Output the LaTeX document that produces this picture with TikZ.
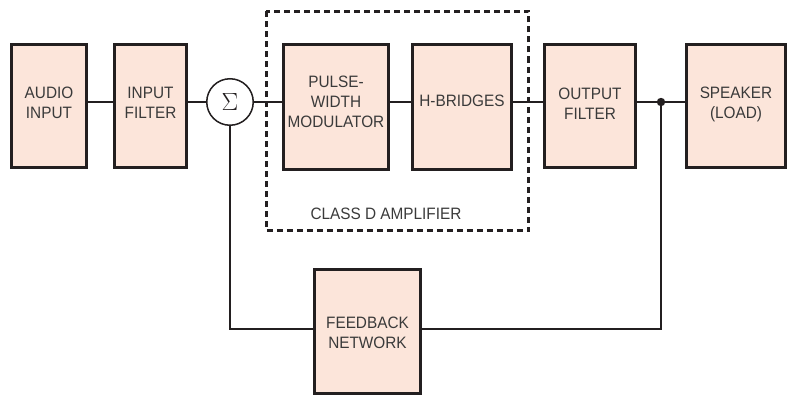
\documentclass[tikz,border=0pt]{standalone}
\usepackage{fontspec}
\setmainfont[FakeStretch=0.93]{Liberation Sans}
\definecolor{boxfill}{HTML}{FCE5DA}
\definecolor{ink}{HTML}{231F20}
\definecolor{txt}{HTML}{3A3A3A}
\begin{document}
\begin{tikzpicture}[x=1pt,y=-1pt,
  blk/.style={draw=ink,fill=boxfill,line width=2.7pt,rectangle,inner sep=0pt},
  lbl/.style={text=txt,align=center,font=\fontsize{16.5}{20}\selectfont,inner sep=0pt},
  wire/.style={draw=ink,line width=1.5pt},
  grp/.style={draw=ink,line width=2.7pt,dash pattern=on 6pt off 4pt}]
\useasboundingbox (0,0) rectangle (788,396);
% dashed group
\draw[grp] (266.3,11.3) rectangle (528.7,230.7);
\node[lbl] (cls) at (386,213.5) {CLASS D AMPLIFIER};
% blocks
\node[blk,minimum width=75.3pt,minimum height=123.3pt] (audio) at (49,106) {};
\node[blk,minimum width=72.3pt,minimum height=123.3pt] (inf) at (150.5,106) {};
\node[blk,minimum width=105.3pt,minimum height=125.3pt] (pwm) at (336,107) {};
\node[blk,minimum width=99.3pt,minimum height=125.3pt] (hb) at (462,107) {};
\node[blk,minimum width=91.3pt,minimum height=123.3pt] (outf) at (590,106) {};
\node[blk,minimum width=99.3pt,minimum height=123.3pt] (spk) at (736,106) {};
\node[blk,minimum width=106.3pt,minimum height=124.3pt] (fb) at (367.5,331.5) {};
% labels
\node[lbl] (taudio) at (49,103) {AUDIO\\INPUT};
\node[lbl] (tinf) at (150.5,103) {INPUT\\FILTER};
\node[lbl] (tpwm) at (336,102) {PULSE-\\WIDTH\\MODULATOR};
\node[lbl] (thb) at (462,100.5) {H-BRIDGES};
\node[lbl] (toutf) at (590,104) {OUTPUT\\FILTER};
\node[lbl] (tspk) at (736,104.5) {SPEAKER\\(LOAD)};
\node[lbl] (tfb) at (367.5,332.5) {FEEDBACK\\NETWORK};
% summing junction
\node[draw=ink,line width=1.5pt,fill=white,circle,minimum size=46.5pt,inner sep=0pt,
  font=\fontsize{28}{28}\selectfont,text=ink] (sig) at (230,102) {$\Sigma$};
% junction dot
\coordinate (j) at (661,102);
\fill[ink] (j) circle (4.2pt);
% connectors
\draw[wire] (audio.east|-sig) -- (inf.west|-sig);
\draw[wire] (inf.east|-sig) -- (sig.west);
\draw[wire] (sig.east) -- (pwm.west|-sig);
\draw[wire] (pwm.east|-sig) -- (hb.west|-sig);
\draw[wire] (hb.east|-sig) -- (outf.west|-sig);
\draw[wire] (outf.east|-sig) -- (j) -- (spk.west|-j);
\coordinate (fbl) at (230,329);
\draw[wire] (sig.south) -- (fbl) -- (fb.west|-fbl);
\draw[wire] (fb.east|-fbl) -- (j|-fbl) -- (j);
\end{tikzpicture}
\end{document}
